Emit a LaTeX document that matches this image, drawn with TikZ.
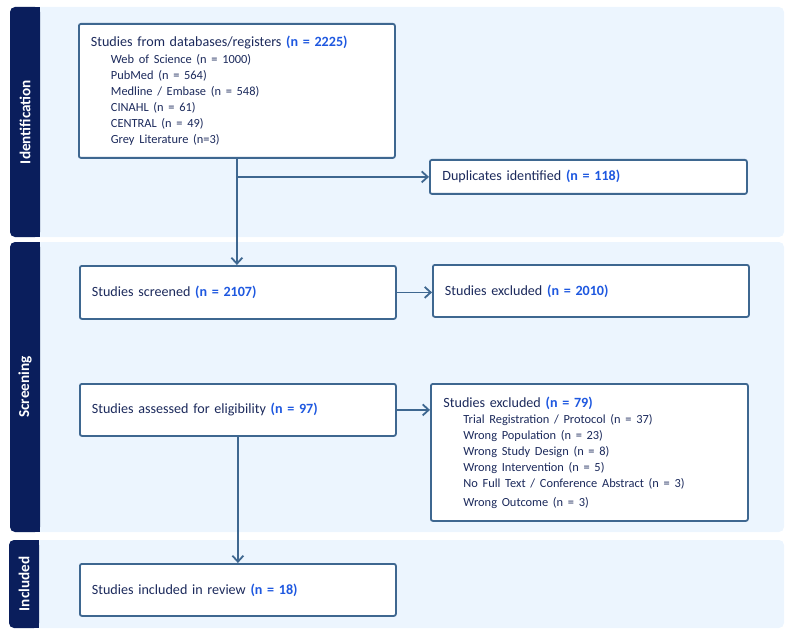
\documentclass[tikz,border=0pt]{standalone}
\usepackage{fontspec}
\setmainfont{Carlito}
\usetikzlibrary{arrows.meta, positioning}

\definecolor{BandNavy}{RGB}{10, 30, 92}
\definecolor{PanelBlue}{RGB}{236, 245, 254}
\definecolor{EdgeSteel}{RGB}{62, 103, 144}
\definecolor{TextNavy}{RGB}{28, 42, 92}
\definecolor{CountBlue}{RGB}{30, 88, 224}

\newcommand{\cnt}[1]{\textbf{\color{CountBlue}#1}}
\newcommand{\subline}[1]{\hspace*{20pt}{\fontsize{12.4}{16}\selectfont #1}}

\begin{document}
\begin{tikzpicture}[x=1pt, y=-1pt, >={Straight Barb[length=6pt, width=11pt]},
    flowbox/.style={draw=EdgeSteel, line width=1.8pt, fill=white, rounded corners=2pt, anchor=north west,
        minimum width=316pt, text width=292pt, align=left, inner xsep=12pt, inner ysep=0pt,
        text=TextNavy, font=\fontsize{14.1}{16}\selectfont},
    bandlabel/.style={rotate=90, text=white, font=\fontsize{15.2}{17}\selectfont\bfseries},
    link/.style={->, draw=EdgeSteel, line width=1.8pt}]
    \useasboundingbox (0,0) rectangle (794,636);

    % bands
    \fill[PanelBlue, rounded corners=5pt] (10,7) rectangle (784,237);
    \fill[PanelBlue, rounded corners=5pt] (10,242) rectangle (784,532);
    \fill[PanelBlue, rounded corners=5pt] (9,540) rectangle (784,628);
    \fill[BandNavy, rounded corners=5pt] (10,7) rectangle (40,237);
    \fill[BandNavy, rounded corners=5pt] (10,242) rectangle (40,532);
    \fill[BandNavy, rounded corners=5pt] (9,540) rectangle (39,628);
    \fill[BandNavy] (30,7) rectangle (40,237);
    \fill[BandNavy] (30,242) rectangle (40,532);
    \fill[BandNavy] (29,540) rectangle (39,628);
    \node[bandlabel] (idlab) at (25,122) {Identification};
    \node[bandlabel] (scrlab) at (25,387) {Screening};
    \node[bandlabel] (inclab) at (24,584) {Included};

    % boxes
    \node[flowbox, minimum height=134pt] (src) at (78,23) {Studies from databases/registers \cnt{(n = 2225)}\\[1pt]
        \subline{Web of Science (n = 1000)}\\
        \subline{PubMed (n = 564)}\\
        \subline{Medline / Embase (n = 548)}\\
        \subline{CINAHL (n = 61)}\\
        \subline{CENTRAL (n = 49)}\\
        \subline{Grey Literature (n=3)}};
    \node[flowbox, minimum width=317pt, minimum height=34pt] (dup) at (429,159) {Duplicates identified \cnt{(n = 118)}};
    \node[flowbox, minimum height=53pt] (scr) at (79,265) {Studies screened \cnt{(n = 2107)}};
    \node[flowbox, minimum height=52pt] (exc1) at (432,264) {Studies excluded \cnt{(n = 2010)}};
    \node[flowbox, minimum height=52pt] (elig) at (79,383) {Studies assessed for eligibility \cnt{(n = 97)}};
    \node[flowbox, minimum width=317pt, minimum height=137pt] (exc2) at (430,383) {Studies excluded \cnt{(n = 79)}\\
        \subline{Trial Registration / Protocol (n = 37)}\\
        \subline{Wrong Population (n = 23)}\\
        \subline{Wrong Study Design (n = 8)}\\
        \subline{Wrong Intervention (n = 5)}\\
        \subline{No Full Text / Conference Abstract (n = 3)}\\[3pt]
        \subline{Wrong Outcome (n = 3)}};
    \node[flowbox, minimum height=52pt] (incl) at (79,563) {Studies included in review \cnt{(n = 18)}};

    % arrows
    \coordinate (fork) at (src.south |- dup.west);
    \draw[link] (src.south) -- (src.south |- scr.north);
    \draw[link] (fork) -- (dup.west);
    \draw[link] (scr.east) -- (scr.east -| exc1.west);
    \draw[link] (elig.east) -- (elig.east -| exc2.west);
    \draw[link] (elig.south) -- (incl.north);
\end{tikzpicture}
\end{document}
